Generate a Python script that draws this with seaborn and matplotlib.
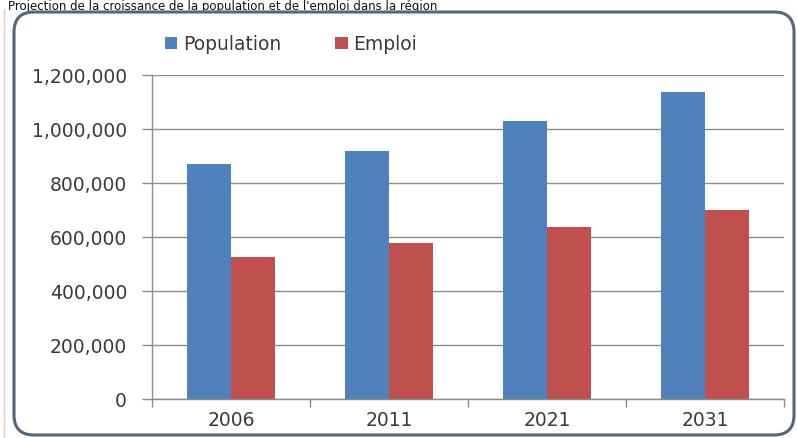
import matplotlib
matplotlib.use("Agg")
import matplotlib.pyplot as plt
import matplotlib.transforms as mtransforms
from matplotlib.patches import FancyBboxPatch, Patch
from matplotlib.lines import Line2D
from matplotlib.ticker import FuncFormatter, FixedLocator
import seaborn as sns
import pandas as pd

# --- DATA ---
YEARS = ["2006", "2011", "2021", "2031"]
POPULATION = [870000, 918000, 1028000, 1136000]
EMPLOI = [527000, 578000, 637000, 700000]
SERIES = ["Population", "Emploi"]
COLORS = ["#4F81BD", "#C0504D"]
Y_TICKS = [0, 200000, 400000, 600000, 800000, 1000000, 1200000]
TITLE = "Projection de la croissance de la population et de l'emploi dans la région"

TEXT_COLOR = "#3a3a3a"
GRID_COLOR = "#8c8c8c"
W, H = 797, 439

df = pd.DataFrame({
    "year": YEARS * 2,
    "value": POPULATION + EMPLOI,
    "series": [SERIES[0]] * len(YEARS) + [SERIES[1]] * len(YEARS),
})

sns.set_style("white")
plt.rcParams["font.family"] = ["DejaVu Sans"]

fig = plt.figure(figsize=(W / 100, H / 100), dpi=100, facecolor="white")
ax = fig.add_axes([152 / W, 1 - 400 / H, (784 - 152) / W, (400 - 76) / H])
ax.set_facecolor("none")

sns.barplot(data=df, x="year", y="value", hue="series", hue_order=SERIES,
            palette=COLORS, width=0.56, gap=0, linewidth=0, saturation=1,
            ax=ax, legend=False)

# y axis
ax.set_ylim(0, 1200000)
ax.yaxis.set_major_locator(FixedLocator(Y_TICKS))
ax.yaxis.set_major_formatter(FuncFormatter(lambda v, p: f"{v:,.0f}"))
ax.set_xlim(-0.5, len(YEARS) - 0.5)
ax.grid(axis="y", color=GRID_COLOR, linewidth=1.0, zorder=0)
ax.set_axisbelow(True)

# x ticks at category boundaries, labels centred
ax.set_xticks([i - 0.5 for i in range(len(YEARS) + 1)], minor=False)
ax.set_xticklabels([""] * (len(YEARS) + 1))
ax.set_xticks(range(len(YEARS)), minor=True)
ax.set_xticklabels(YEARS, minor=True)
ax.tick_params(axis="x", which="major", direction="out", length=6, width=1,
               color=GRID_COLOR, bottom=True)
ax.tick_params(axis="x", which="minor", length=0, pad=8, labelsize=13.5,
               labelcolor=TEXT_COLOR)
ax.tick_params(axis="y", direction="out", length=7, width=1, color=GRID_COLOR,
               left=True, pad=11, labelsize=13.5, labelcolor=TEXT_COLOR)
ax.set_xlabel("")
ax.set_ylabel("")

for s in ["top", "right"]:
    ax.spines[s].set_visible(False)
for s in ["left", "bottom"]:
    ax.spines[s].set_color(GRID_COLOR)
    ax.spines[s].set_linewidth(1.0)

# legend
handles = [Patch(facecolor=c, edgecolor="none") for c in COLORS]
fig.legend(handles, SERIES, loc="center left",
           bbox_to_anchor=(148 / W, 1 - 45 / H), ncol=2, frameon=False,
           fontsize=13.5, handlelength=0.65, handleheight=0.65,
           handletextpad=0.3, columnspacing=2.9, labelcolor=TEXT_COLOR)

# rounded chart border
ident = mtransforms.IdentityTransform()
border = FancyBboxPatch((14, H - 436), 780, 423,
                        boxstyle="round,pad=0,rounding_size=20",
                        transform=ident, facecolor="none",
                        edgecolor="#56677a", linewidth=2.2, zorder=5)
fig.add_artist(border)
fig.add_artist(Line2D([4, 4], [0, H - 10], transform=ident,
                      color="#d4d4d4", linewidth=1))

# title squeezed into the thin strip above the frame
fig.text(8 / W, 1 - 10 / H, TITLE, fontsize=8.5, color="#111111",
         ha="left", va="baseline")

fig.savefig("out.png", dpi=100, facecolor="white")
